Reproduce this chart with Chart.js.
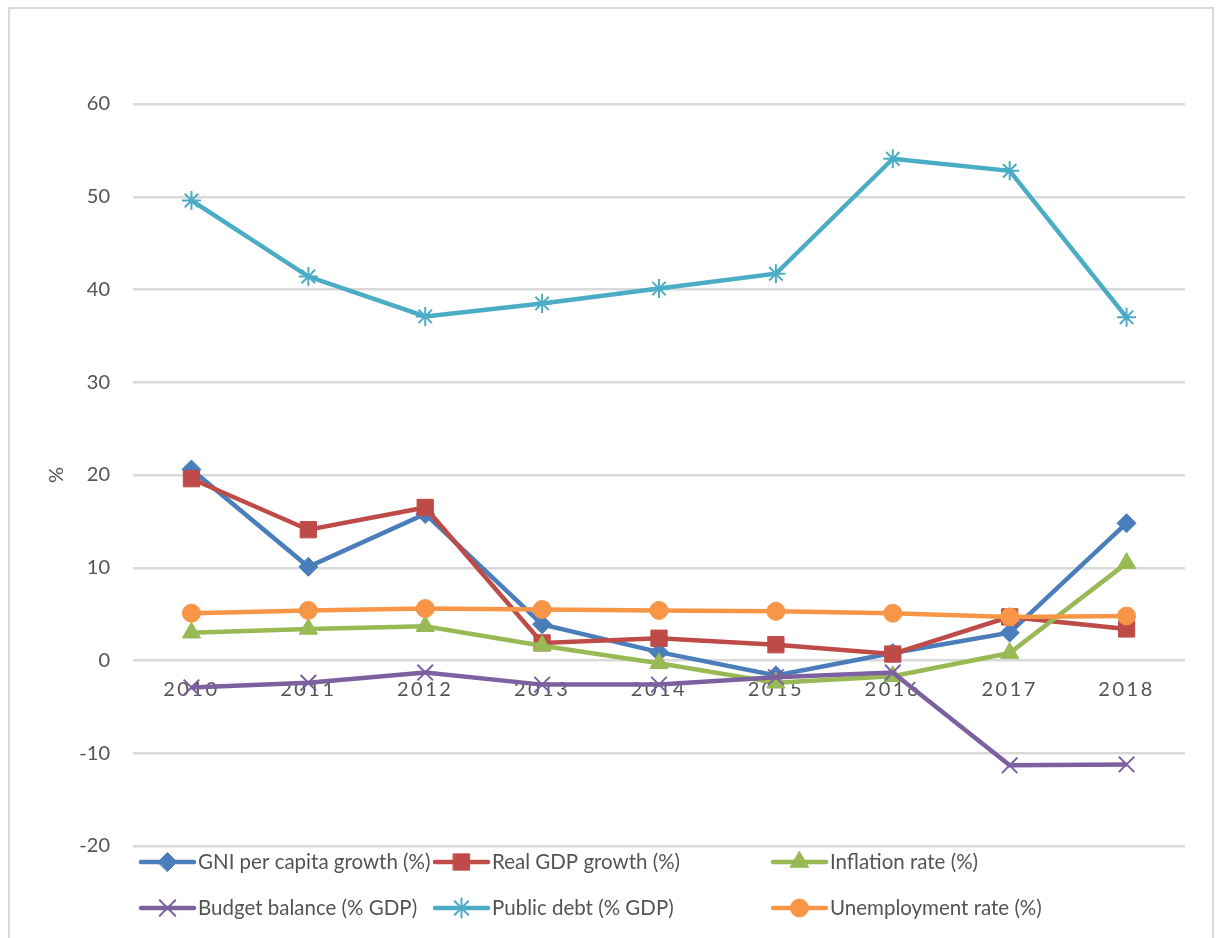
<!DOCTYPE html>
<html>
<head>
<meta charset="utf-8">
<script src="https://cdn.jsdelivr.net/npm/chart.js@4/dist/chart.umd.min.js"></script>
<style>
  html, body { margin: 0; padding: 0; background: #fff; }
  #wrap { position: relative; width: 1218px; height: 938px; overflow: hidden; }
  #frame { position: absolute; left: 8px; top: 7px; width: 1206px; height: 960px;
           border: 2px solid #d9d9d9; box-sizing: border-box; pointer-events: none; }
  canvas { position: absolute; left: 0; top: 0; }
</style>
</head>
<body>
<div id="wrap">
  <canvas id="chart" width="1218" height="938"></canvas>
  <div id="frame"></div>
</div>
<script>
// Years on the category axis
const years = ['2010', '2011', '2012', '2013', '2014', '2015', '2016', '2017', '2018'];

// Indicator series (%)
const gniPerCapitaGrowth = [20.6, 10.1, 15.8, 3.9, 0.9, -1.6, 0.8, 3.0, 14.8];
const realGdpGrowth      = [19.6, 14.1, 16.5, 1.9, 2.4, 1.7, 0.7, 4.7, 3.4];
const inflationRate      = [3.0, 3.4, 3.7, 1.6, -0.3, -2.4, -1.7, 0.8, 10.5];
const budgetBalance      = [-2.9, -2.4, -1.3, -2.6, -2.6, -1.8, -1.3, -11.3, -11.2];
const publicDebt         = [49.6, 41.4, 37.1, 38.5, 40.1, 41.7, 54.1, 52.8, 37.0];
const unemploymentRate   = [5.1, 5.4, 5.6, 5.5, 5.4, 5.3, 5.1, 4.7, 4.8];

// Series names
const seriesNames = [
  'GNI per capita growth (%)', 'Real GDP growth (%)', 'Inflation rate (%)',
  'Budget balance (% GDP)', 'Public debt (% GDP)', 'Unemployment rate (%)'
];

// Y axis range
const yMin = -20, yMax = 60, yStep = 10;

const FONT_FAMILY = 'Lato, "Open Sans", sans-serif';
const TEXT_COLOR = '#545454';

function series(i, data, color, pointStyle, radius, pointBorder) {
  return {
    label: seriesNames[i],
    data: data,
    borderColor: color,
    backgroundColor: color,
    borderWidth: 4.5,
    pointStyle: pointStyle,
    pointRadius: radius,
    pointHoverRadius: radius,
    pointBorderWidth: pointBorder,
    pointBackgroundColor: color,
    pointBorderColor: color,
    tension: 0,
    fill: false,
    order: -i
  };
}

const datasets = [
  series(0, gniPerCapitaGrowth, '#4a7ebb', 'rectRot', 9.5, 1),
  series(1, realGdpGrowth, '#be4b48', 'rect', 11.5, 1),
  series(2, inflationRate, '#98b954', 'triangle', 10.5, 1),
  series(3, budgetBalance, '#7d60a0', 'crossRot', 11, 2),
  series(4, publicDebt, '#4bacc6', 'star', 9.5, 2),
  series(5, unemploymentRate, '#f79646', 'circle', 9, 1)
];

// Two-row legend drawn under the plot: a short line with the series marker, then its name
const legendSlots = [
  { x: 141, y: 862 }, { x: 435, y: 862 }, { x: 773, y: 862 },
  { x: 141, y: 908 }, { x: 435, y: 908 }, { x: 773, y: 908 }
];
const lineLegend = {
  id: 'lineLegend',
  beforeDraw(chart) {
    // spaced-out year labels on the category axis
    const s = chart.scales.x;
    if (s && !s._spacedLabels) {
      const orig = s.drawLabels.bind(s);
      s.drawLabels = function (area) {
        const ctx = chart.ctx;
        ctx.save();
        ctx.letterSpacing = '2.5px';
        orig(area);
        ctx.restore();
      };
      s._spacedLabels = true;
    }
  },
  afterDraw(chart) {
    const ctx = chart.ctx;
    ctx.save();
    chart.data.datasets.forEach((ds, i) => {
      const slot = legendSlots[i];
      const x1 = slot.x, x2 = slot.x + 53, y = slot.y;
      ctx.strokeStyle = ds.borderColor;
      ctx.lineWidth = 4.5;
      ctx.lineCap = 'round';
      ctx.beginPath();
      ctx.moveTo(x1, y);
      ctx.lineTo(x2, y);
      ctx.stroke();
      ctx.fillStyle = ds.pointBackgroundColor;
      ctx.strokeStyle = ds.pointBorderColor;
      ctx.lineWidth = ds.pointBorderWidth;
      Chart.helpers.drawPoint(ctx, {
        pointStyle: ds.pointStyle, radius: ds.pointRadius, rotation: 0, borderWidth: ds.pointBorderWidth
      }, (x1 + x2) / 2, y);
      ctx.fillStyle = TEXT_COLOR;
      ctx.font = '20.5px ' + FONT_FAMILY;
      ctx.textAlign = 'left';
      ctx.textBaseline = 'middle';
      ctx.fillText(ds.label, x2 + 4, y);
    });
    ctx.restore();
  }
};

new Chart(document.getElementById('chart'), {
  type: 'line',
  data: { labels: years, datasets: datasets },
  options: {
    responsive: false,
    animation: false,
    events: [],
    layout: { padding: { left: 0, top: 104, right: 33, bottom: 92 } },
    plugins: {
      legend: { display: false },
      tooltip: { enabled: false },
      title: { display: false }
    },
    scales: {
      x: {
        type: 'category',
        position: { y: 0 },
        offset: true,
        grid: { display: false, drawTicks: false },
        border: { display: false },
        ticks: {
          color: TEXT_COLOR,
          font: { family: FONT_FAMILY, size: 20 },
          padding: 17,
          maxRotation: 0,
          autoSkip: false
        }
      },
      y: {
        min: yMin,
        max: yMax,
        afterFit(scale) { scale.width = 133; },
        grid: { color: '#d9d9d9', lineWidth: 2.5, drawTicks: false },
        border: { display: false },
        ticks: {
          stepSize: yStep,
          color: TEXT_COLOR,
          font: { family: FONT_FAMILY, size: 20 },
          padding: 23
        },
        title: {
          display: true,
          text: '%',
          color: TEXT_COLOR,
          font: { family: FONT_FAMILY, size: 20 },
          padding: { top: 45, bottom: 0 }
        }
      }
    }
  },
  plugins: [lineLegend]
});
</script>
</body>
</html>
